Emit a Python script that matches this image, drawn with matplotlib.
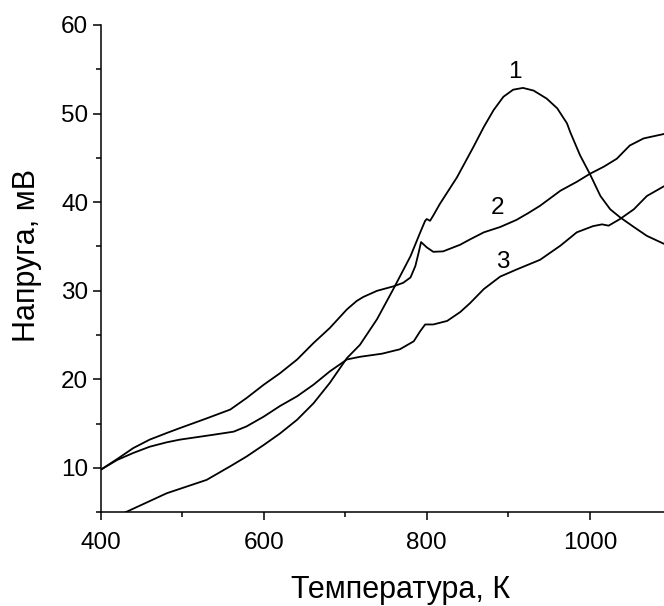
import numpy as np
import matplotlib
matplotlib.use("Agg")
import matplotlib.pyplot as plt
from matplotlib.ticker import MultipleLocator

plt.rcParams["font.family"] = ["Liberation Sans", "DejaVu Sans"]

# curve 1
t1 = [400, 432, 481, 530, 559, 579, 600, 620, 641, 661, 681, 702, 718, 739,
      759, 780, 792, 798, 800, 804, 808, 816, 837, 857, 870, 882, 894, 906,
      918, 931, 947, 960, 972, 976, 988, 1000, 1013, 1025, 1037, 1054, 1070,
      1091]
v1 = [3.7, 5.07, 7.15, 8.66, 10.2, 11.3, 12.6, 13.9, 15.45, 17.3, 19.6, 22.4,
      23.9, 26.8, 30.2, 33.9, 36.6, 37.9, 38.1, 37.9, 38.5, 39.8, 42.8, 46.2,
      48.5, 50.4, 51.9, 52.7, 52.9, 52.6, 51.7, 50.6, 48.9, 47.9, 45.3, 43.2,
      40.7, 39.2, 38.3, 37.2, 36.2, 35.3]

# curve 2
t2 = [400, 420, 440, 460, 481, 497, 530, 559, 579, 600, 620, 641, 661, 681,
      702, 714, 722, 739, 759, 771, 780, 786, 790, 793, 800, 808, 820, 841,
      853, 870, 890, 910, 925, 939, 964, 984, 1000, 1017, 1033, 1049, 1066,
      1086, 1091]
v2 = [9.8, 11.0, 12.25, 13.2, 13.95, 14.5, 15.6, 16.6, 17.9, 19.4, 20.7, 22.25,
      24.1, 25.8, 27.9, 28.85, 29.3, 30.0, 30.5, 30.9, 31.5, 32.8, 34.3, 35.5,
      34.9, 34.4, 34.45, 35.2, 35.8, 36.6, 37.2, 38.0, 38.8, 39.6, 41.3, 42.3,
      43.2, 44.0, 44.9, 46.4, 47.2, 47.6, 47.7]

# curve 3
t3 = [400, 420, 440, 460, 481, 497, 538, 563, 579, 600, 620, 641, 661, 681,
      702, 718, 745, 767, 784, 792, 798, 808, 825, 841, 853, 870, 890, 910,
      939, 964, 984, 1004, 1015, 1023, 1037, 1054, 1070, 1091]
v3 = [9.8, 10.9, 11.7, 12.4, 12.9, 13.2, 13.75, 14.1, 14.7, 15.8, 17.0, 18.1,
      19.4, 20.9, 22.25, 22.55, 22.9, 23.4, 24.3, 25.45, 26.2, 26.2, 26.6, 27.6,
      28.6, 30.2, 31.6, 32.4, 33.5, 35.1, 36.6, 37.3, 37.5, 37.35, 38.1, 39.2,
      40.7, 41.8]

curve_labels = ["1", "2", "3"]
label_pos = [(908, 54.75), (887, 39.4), (893, 33.2)]

fig = plt.figure(figsize=(6.64, 6.06), dpi=100)
ax = fig.add_axes([100.7 / 664, 1 - 512.3 / 606, 563.3 / 664, 487.3 / 606])

for t, v in [(t1, v1), (t2, v2), (t3, v3)]:
    ax.plot(t, v, color="black", lw=1.3, solid_joinstyle="round")

for lab, (x, y) in zip(curve_labels, label_pos):
    ax.text(x, y, lab, fontsize=17.5, ha="center", va="center")

ax.set_xlim(400, 1091)
ax.set_ylim(5, 60)
ax.xaxis.set_major_locator(MultipleLocator(200))
ax.xaxis.set_minor_locator(MultipleLocator(100))
ax.yaxis.set_major_locator(MultipleLocator(10))
ax.yaxis.set_minor_locator(MultipleLocator(5))
ax.set_yticks([10, 20, 30, 40, 50, 60])

for s in ["top", "right"]:
    ax.spines[s].set_visible(False)
for s in ["left", "bottom"]:
    ax.spines[s].set_linewidth(1.1)

ax.tick_params(which="major", length=6, width=1.1, labelsize=17.5)
ax.tick_params(axis="x", which="major", pad=8.5)
ax.tick_params(axis="y", which="major", pad=3)
ax.tick_params(which="minor", length=3.5, width=1.1)

fig.text(401 / 664, 1 - 598.3 / 606, "Температура, К", fontsize=22,
         ha="center", va="baseline")
fig.text(35 / 664, 1 - 256 / 606, "Напруга, мВ", fontsize=22,
         ha="center", va="baseline", rotation=90, rotation_mode="anchor")

fig.savefig("out.png", dpi=100)
